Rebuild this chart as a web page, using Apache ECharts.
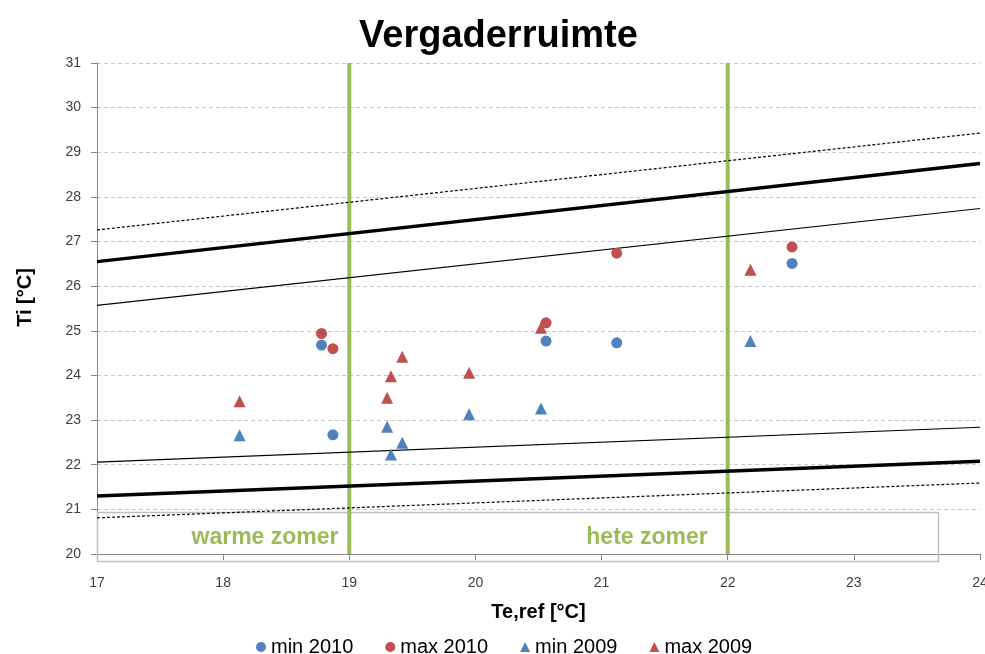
<!DOCTYPE html>
<html><head><meta charset="utf-8">
<script src="https://cdn.jsdelivr.net/npm/echarts@6/dist/echarts.min.js"></script>
<style>html,body{margin:0;padding:0;background:#fff}#c{width:985px;height:654px}</style>
</head><body><div id="c"></div>
<script>
// ---- data ----
const chartTitle = 'Vergaderruimte';
const xName = 'Te,ref [°C]';
const yName = 'Ti [°C]';
const xRange = [17, 24];
const yRange = [20, 31];
const seriesNames = ['min 2010', 'max 2010', 'min 2009', 'max 2009'];
const min2010 = [[18.78, 24.68], [18.87, 22.67], [20.56, 24.77], [21.12, 24.73], [22.51, 26.51]];
const max2010 = [[18.78, 24.94], [18.87, 24.60], [20.56, 25.18], [21.12, 26.74], [22.51, 26.88]];
const min2009 = [[18.13, 22.66], [19.30, 22.85], [19.33, 22.23], [19.42, 22.49], [19.95, 23.13], [20.52, 23.26], [22.18, 24.77]];
const max2009 = [[18.13, 23.42], [19.30, 23.50], [19.33, 23.98], [19.42, 24.42], [19.95, 24.06], [20.52, 25.07], [22.18, 26.37]];
// comfort limit lines: values at x = 17 and x = 24
const limitX = [17, 24];
const upper65 = [27.26, 29.43];
const upper80 = [26.55, 28.75];
const upper90 = [25.57, 27.74];
const lower90 = [22.06, 22.84];
const lower80 = [21.30, 22.08];
const lower65 = [20.81, 21.59];
const zoneBounds = [19, 22];
const zoneLabels = ['warme zomer', 'hete zomer'];

// ---- chart ----
const chart = echarts.init(document.getElementById('c'), null, {renderer: 'canvas'});
const FONT = 'Liberation Sans, Arial, sans-serif';
const BLUE = '#4F81BD', RED = '#C0504D', GREEN = '#9BBB59';

function limitSeries(vals, width, dashed) {
  return {
    type: 'line', silent: true, symbol: 'none', z: 3,
    data: limitX.map((x, i) => [x, vals[i]]),
    lineStyle: {color: '#000', width: width, type: dashed ? [3, 2] : 'solid'}
  };
}
const series = [];
zoneBounds.forEach(x => series.push({
  type: 'line', silent: true, symbol: 'none', z: 2,
  data: [[x, yRange[0]], [x, yRange[1]]],
  lineStyle: {color: GREEN, width: 4}
}));
series.push(limitSeries(upper65, 1.2, true));
series.push(limitSeries(upper80, 3.5, false));
series.push(limitSeries(upper90, 1.2, false));
series.push(limitSeries(lower90, 1.2, false));
series.push(limitSeries(lower80, 3.5, false));
series.push(limitSeries(lower65, 1.2, true));
[[min2010, 'circle', BLUE, 11], [max2010, 'circle', RED, 11], [min2009, 'triangle', BLUE, 12], [max2009, 'triangle', RED, 12]]
  .forEach((s, i) => series.push({
    name: seriesNames[i], type: 'scatter', z: 5,
    data: s[0], symbol: s[1], symbolSize: s[3], itemStyle: {color: s[2], opacity: 1}
  }));

chart.setOption({
  animation: false,
  backgroundColor: '#fff',
  title: {text: chartTitle, left: 354, top: 13,
    textStyle: {fontFamily: FONT, fontSize: 38, fontWeight: 'bold', color: '#000'}},
  grid: {left: 97, right: 5, top: 63, bottom: 100, containLabel: false, outerBoundsMode: 'none'},
  legend: {
    data: seriesNames, left: 251, top: 632, itemWidth: 10, itemHeight: 10, itemGap: 32,
    textStyle: {fontFamily: FONT, fontSize: 20, color: '#000'}
  },
  xAxis: {
    type: 'value', min: xRange[0], max: xRange[1], interval: 1,
    name: xName, nameLocation: 'middle', nameGap: 48,
    nameTextStyle: {fontFamily: FONT, fontSize: 20, fontWeight: 'bold', color: '#000'},
    axisLine: {show: true, lineStyle: {color: '#868686', width: 1}},
    axisTick: {show: true, length: 6, lineStyle: {color: '#868686'}},
    axisLabel: {margin: 22, fontFamily: FONT, fontSize: 14, color: '#404040'},
    splitLine: {show: false}
  },
  yAxis: {
    type: 'value', min: yRange[0], max: yRange[1], interval: 1,
    name: yName, nameLocation: 'middle', nameGap: 62,
    nameTextStyle: {fontFamily: FONT, fontSize: 20, fontWeight: 'bold', color: '#000', padding: [0, 0, 0, 22]},
    axisLine: {show: true, lineStyle: {color: '#868686', width: 1}},
    axisTick: {show: true, length: 6, lineStyle: {color: '#868686'}},
    axisLabel: {margin: 16, fontFamily: FONT, fontSize: 14, color: '#404040'},
    splitLine: {show: true, lineStyle: {color: '#C8C8C8', width: 1, type: [4, 3]}}
  },
  graphic: [
    {type: 'rect', z: 1, silent: true, shape: {x: 97.5, y: 512.5, width: 841, height: 49},
      style: {fill: 'none', stroke: '#BFBFBF', lineWidth: 1.5}},
    {type: 'text', z: 10, silent: true, x: 265, y: 538,
      style: {text: zoneLabels[0], fontFamily: FONT, fontSize: 23, fontWeight: 'bold', fill: GREEN, align: 'center', verticalAlign: 'middle'}},
    {type: 'text', z: 10, silent: true, x: 647, y: 538,
      style: {text: zoneLabels[1], fontFamily: FONT, fontSize: 23, fontWeight: 'bold', fill: GREEN, align: 'center', verticalAlign: 'middle'}}
  ],
  series: series
});
</script></body></html>
